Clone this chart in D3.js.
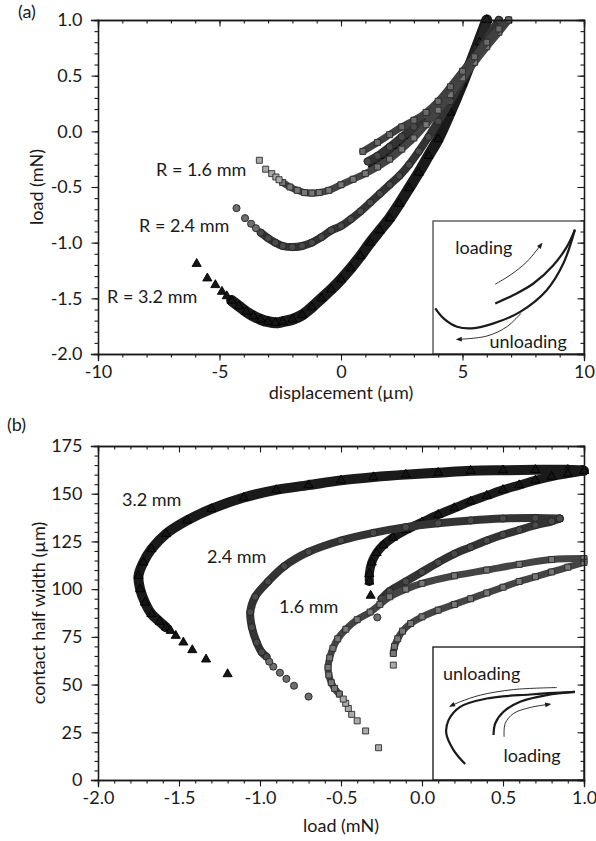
<!DOCTYPE html>
<html><head><meta charset="utf-8">
<script src="https://cdn.jsdelivr.net/npm/d3@7"></script>
<style>body{margin:0;background:#fff} text{font-family:Lato,"Open Sans",sans-serif;fill:#1a1a1a}</style>
</head><body><svg id="c" width="596" height="841"></svg>
<script>
// ---------- Panel (a): load (mN) vs displacement (um) ----------
const aXTicks = [-10,-5,0,5,10];
const aYTicks = [1.0,0.5,0.0,-0.5,-1.0,-1.5,-2.0];
const a16Tail = [[-3.36,-0.26],[-3.10,-0.34],[-2.85,-0.38],[-2.68,-0.41],[-2.55,-0.435]];
const a16Unload = [[-2.4,-0.46],[-2.1,-0.50],[-1.8,-0.53],[-1.5,-0.55],[-1.2,-0.555],[-0.9,-0.55],[-0.5,-0.53],[0,-0.48],[0.5,-0.43],[1.0,-0.38],[1.5,-0.32],[2.0,-0.25],[2.5,-0.16],[3.0,-0.06],[3.5,0.06],[4.0,0.19],[4.5,0.33],[5.0,0.48],[5.5,0.62],[6.0,0.76],[6.5,0.89],[6.9,1.0]];
const a16Load = [[0.9,-0.18],[1.5,-0.1],[2.0,-0.03],[2.5,0.04],[3.0,0.1],[3.5,0.17],[4.0,0.27],[4.5,0.4],[5.0,0.54],[5.5,0.67],[6.0,0.8],[6.5,0.92],[6.9,1.0]];
const a24Tail = [[-4.3,-0.69],[-3.95,-0.78],[-3.70,-0.83],[-3.5,-0.87]];
const a24Unload = [[-3.3,-0.91],[-3.0,-0.96],[-2.7,-1.0],[-2.4,-1.03],[-2.0,-1.04],[-1.6,-1.03],[-1.2,-1.0],[-0.8,-0.95],[-0.4,-0.89],[0,-0.85],[0.4,-0.79],[0.8,-0.72],[1.2,-0.64],[1.6,-0.56],[2.0,-0.48],[2.4,-0.40],[2.8,-0.3],[3.2,-0.18],[3.6,-0.05],[4.0,0.09],[4.5,0.27],[5.0,0.46],[5.5,0.64],[6.0,0.83],[6.5,1.0]];
const a24Load = [[1.1,-0.27],[1.5,-0.22],[2.0,-0.14],[2.5,-0.05],[3.0,0.04],[3.5,0.14],[4.0,0.26],[4.5,0.38],[5.0,0.52],[5.5,0.66],[6.0,0.81],[6.5,1.0]];
const a32Tail = [[-5.94,-1.19],[-5.5,-1.32],[-5.17,-1.38],[-4.9,-1.44],[-4.7,-1.48]];
const a32Unload = [[-4.5,-1.52],[-4.2,-1.57],[-3.9,-1.62],[-3.6,-1.66],[-3.3,-1.69],[-3.0,-1.71],[-2.7,-1.72],[-2.4,-1.71],[-2.0,-1.69],[-1.6,-1.65],[-1.2,-1.58],[-0.8,-1.5],[-0.4,-1.42],[0,-1.33],[0.4,-1.23],[0.8,-1.12],[1.2,-1.0],[1.6,-0.89],[2.0,-0.78],[2.4,-0.65],[2.8,-0.51],[3.2,-0.37],[3.6,-0.22],[4.0,-0.07],[4.5,0.17],[5.0,0.43],[5.5,0.71],[6.0,1.0]];
const a32Load = [[1.3,-0.3],[1.8,-0.22],[2.3,-0.13],[2.8,-0.04],[3.3,0.06],[3.8,0.17],[4.3,0.3],[4.8,0.45],[5.3,0.62],[5.7,0.8],[6.0,1.0]];

// ---------- Panel (b): contact half width (um) vs load (mN) ----------
const bXTicks = [-2.0,-1.5,-1.0,-0.5,0.0,0.5,1.0];
const bYTicks = [0,25,50,75,100,125,150,175];
const b32Tail = [[-1.2,55.5],[-1.333,63.2],[-1.418,68.1],[-1.473,72.1],[-1.52,75.6],[-1.551,78.2]];
const b32Unload = [[-1.58,80],[-1.62,83],[-1.67,87],[-1.71,93],[-1.74,100],[-1.75,107],[-1.72,114],[-1.67,121],[-1.58,129],[-1.45,136],[-1.3,142],[-1.1,148],[-0.9,152],[-0.7,154.5],[-0.5,157],[-0.3,158.7],[-0.1,160],[0.1,161],[0.3,162],[0.5,162.3],[0.7,162.5],[0.9,162.5],[1.0,162]];
const b32Tail2 = [[-0.317,96.6]];
const b32Load = [[-0.325,104],[-0.325,108],[-0.31,114],[-0.28,119],[-0.24,123],[-0.18,127],[-0.1,131],[0,135],[0.1,139],[0.2,142.5],[0.3,146],[0.4,149],[0.5,152],[0.6,154.5],[0.7,157],[0.8,159],[0.9,160.5],[1.0,162]];
const b24Tail = [[-0.70,43.7],[-0.79,49.4],[-0.837,53],[-0.877,56.2],[-0.918,59.4],[-0.943,62]];
const b24Unload = [[-0.96,64.6],[-0.99,67],[-1.02,72],[-1.05,80],[-1.06,88],[-1.03,96],[-0.95,104],[-0.85,112],[-0.7,119.5],[-0.5,125.5],[-0.3,129.5],[-0.1,132.5],[0.1,134.5],[0.3,136],[0.5,137],[0.7,137.3],[0.85,137]];
const b24Tail2 = [[-0.276,85.2]];
const b24Load = [[-0.25,95],[-0.2,99],[-0.1,104],[0,109],[0.1,114],[0.2,118.5],[0.3,122],[0.4,125.5],[0.5,128.5],[0.6,131],[0.7,133.5],[0.8,135.5],[0.85,137]];
const b16Tail = [[-0.268,16.9],[-0.348,25.7],[-0.4,31],[-0.434,34.4],[-0.455,37.5],[-0.471,40.2],[-0.486,42.4]];
const b16Unload = [[-0.51,45],[-0.54,48],[-0.56,51],[-0.575,55],[-0.58,59],[-0.57,64],[-0.55,69],[-0.52,74],[-0.47,79],[-0.4,84],[-0.32,88],[-0.26,92],[-0.2,96],[-0.1,100],[0,103],[0.2,107],[0.4,110],[0.6,113],[0.8,115.5],[1.0,116]];
const b16Tail2 = [[-0.177,60.2]];
const b16Load = [[-0.177,66.3],[-0.17,70],[-0.15,74],[-0.12,78],[-0.07,82],[0,85.5],[0.1,89],[0.2,92],[0.3,95],[0.4,98],[0.5,101],[0.6,104],[0.7,106.5],[0.8,109],[0.9,111.5],[1.0,114]];

// ---------- Inset schematics (normalised box coordinates, y downward) ----------
const insA_unload = [[0.015,0.657],[0.070,0.732],[0.159,0.795],[0.258,0.807],[0.401,0.770],[0.577,0.683],[0.753,0.520],[0.863,0.320],[0.940,0.065]];
const insA_load = [[0.412,0.620],[0.533,0.557],[0.665,0.470],[0.797,0.332],[0.886,0.195],[0.940,0.065]];
const insA_loadArrow = [[0.412,0.475],[0.511,0.407],[0.621,0.307],[0.720,0.170]];
const insA_unloadArrow = [[0.582,0.695],[0.489,0.795],[0.357,0.865],[0.159,0.890]];
const insB_unload = [[0.213,0.880],[0.136,0.775],[0.088,0.650],[0.103,0.550],[0.180,0.450],[0.357,0.387],[0.643,0.357],[0.940,0.338]];
const insB_load = [[0.401,0.662],[0.412,0.575],[0.467,0.487],[0.577,0.412],[0.753,0.362],[0.940,0.338]];
const insB_unloadArrow = [[0.820,0.305],[0.533,0.320],[0.313,0.362],[0.180,0.412],[0.114,0.445]];
const insB_loadArrow = [[0.471,0.675],[0.478,0.575],[0.533,0.500],[0.643,0.455],[0.775,0.430]];

const FS = 18;
const svg = d3.select("#c");
const fmt1 = d => d.toFixed(1).replace("\u2212","-");
const fmt0 = d => String(d);

svg.append("defs").append("marker").attr("id","ah").attr("viewBox","0 0 10 10")
  .attr("refX",8).attr("refY",5).attr("markerWidth",7).attr("markerHeight",6)
  .attr("markerUnits","userSpaceOnUse").attr("orient","auto")
  .append("path").attr("d","M0,1 L10,5 L0,9 Z").attr("fill","#1a1a1a");

function frame(x, y, xMaj, xMin, yMaj, yMin, fx, fy) {
  const [x0,x1] = x.range(), [y0,y1] = y.range();
  const g = svg.append("g");
  const style = s => { s.select(".domain").attr("stroke","#1a1a1a").attr("stroke-width",1.3);
    s.selectAll(".tick line").attr("stroke","#1a1a1a").attr("stroke-width",1.1);
    s.selectAll("text").attr("font-size",FS).attr("fill","#1a1a1a").attr("font-family","Lato"); };
  g.append("g").attr("transform",`translate(0,${y0})`).call(d3.axisBottom(x).tickValues(xMin).tickSize(3.5).tickFormat("")).call(style);
  g.append("g").attr("transform",`translate(0,${y0})`).call(d3.axisBottom(x).tickValues(xMaj).tickSize(6.5).tickPadding(5).tickFormat(fx)).call(style);
  g.append("g").attr("transform",`translate(0,${y1})`).call(d3.axisTop(x).tickValues(xMin).tickSize(-3.5).tickFormat("")).call(style);
  g.append("g").attr("transform",`translate(0,${y1})`).call(d3.axisTop(x).tickValues(xMaj).tickSize(-6.5).tickFormat("")).call(style);
  g.append("g").attr("transform",`translate(${x0},0)`).call(d3.axisLeft(y).tickValues(yMin).tickSize(3.5).tickFormat("")).call(style);
  g.append("g").attr("transform",`translate(${x0},0)`).call(d3.axisLeft(y).tickValues(yMaj).tickSize(6.5).tickPadding(9).tickFormat(fy)).call(style);
  g.append("g").attr("transform",`translate(${x1},0)`).call(d3.axisRight(y).tickValues(yMin).tickSize(-3.5).tickFormat("")).call(style);
  g.append("g").attr("transform",`translate(${x1},0)`).call(d3.axisRight(y).tickValues(yMaj).tickSize(-6.5).tickFormat("")).call(style);
  g.selectAll(".domain").attr("stroke-linecap","square");
  return g;
}
const rng = (a,b,s) => d3.range(Math.round(a/s), Math.round(b/s)+1).map(i => +(i*s).toFixed(6));

function series(g, x, y, dense, tail, sym, size, fill, denseFill, stroke, band, bw) {
  if (dense.length) {
    g.append("path").datum(dense).attr("fill","none").attr("stroke",band).attr("stroke-width",bw)
      .attr("stroke-linejoin","round").attr("stroke-linecap","round")
      .attr("d", d3.line().x(d=>x(d[0])).y(d=>y(d[1])).curve(d3.curveCatmullRom));
  }
  g.selectAll(null).data(dense).join("path")
    .attr("transform", d=>`translate(${x(d[0])},${y(d[1])})`)
    .attr("d", d3.symbol(sym, size)).attr("fill", denseFill).attr("stroke", stroke).attr("stroke-width",0.9);
  g.selectAll(null).data(tail).join("path")
    .attr("transform", d=>`translate(${x(d[0])},${y(d[1])})`)
    .attr("d", d3.symbol(sym, size)).attr("fill", fill).attr("stroke", stroke).attr("stroke-width",0.9);
}

function inset(x0,y0,x1,y1,border,curves,thin,labels){
  const g = svg.append("g");
  g.append("rect").attr("x",x0).attr("y",y0).attr("width",x1-x0).attr("height",y1-y0)
    .attr("fill","#fff").attr("stroke",border).attr("stroke-width",1.4);
  const sx = d3.scaleLinear().domain([0,1]).range([x0,x1]);
  const sy = d3.scaleLinear().domain([0,1]).range([y0,y1]);
  const ln = d3.line().x(d=>sx(d[0])).y(d=>sy(d[1])).curve(d3.curveCatmullRom);
  curves.forEach(c => g.append("path").attr("d",ln(c)).attr("fill","none").attr("stroke","#1a1a1a").attr("stroke-width",2.2));
  thin.forEach(c => g.append("path").attr("d",ln(c)).attr("fill","none").attr("stroke","#1a1a1a").attr("stroke-width",0.9).attr("marker-end","url(#ah)"));
  labels.forEach(l => g.append("text").attr("x",sx(l[1])).attr("y",sy(l[2])).attr("font-size",FS).text(l[0]));
}

// ---- Panel (a)
const ax = d3.scaleLinear().domain([-10,10]).range([98,584]);
const ay = d3.scaleLinear().domain([-2,1]).range([354,20]);
const ga = svg.append("g");
series(ga, ax, ay, a32Unload, a32Tail, d3.symbolTriangle, 36, "#151515", "#151515", "#000", "#1a1a1a", 11);
series(ga, ax, ay, a32Load, [], d3.symbolTriangle, 34, "#222", "#222", "#000", "#262626", 8);
series(ga, ax, ay, a24Unload, a24Tail, d3.symbolCircle, 40, "#6e6e6e", "#4a4a4a", "#222", "#333", 8);
series(ga, ax, ay, a24Load, [], d3.symbolCircle, 40, "#6e6e6e", "#4a4a4a", "#222", "#333", 8);
series(ga, ax, ay, a16Unload, a16Tail, d3.symbolSquare, 36, "#aaaaaa", "#777", "#2a2a2a", "#444", 7);
series(ga, ax, ay, a16Load, [], d3.symbolSquare, 36, "#aaaaaa", "#6a6a6a", "#2a2a2a", "#404040", 7);
inset(433,221,584,354,"#555",[insA_unload,insA_load],[insA_loadArrow,insA_unloadArrow],[["loading",0.147,0.25],["unloading",0.374,0.957]]);
frame(ax, ay, aXTicks, rng(-10,10,1), aYTicks, rng(-2,1,0.1), fmt0, fmt1);
svg.append("text").attr("x",18).attr("y",18).attr("font-size",FS).text("(a)");
svg.append("text").attr("x",341).attr("y",399).attr("text-anchor","middle").attr("font-size",FS).text("displacement (µm)");
svg.append("text").attr("transform","translate(43,187) rotate(-90)").attr("text-anchor","middle").attr("font-size",FS).text("load (mN)");
svg.append("text").attr("x",156).attr("y",176).attr("font-size",FS).text("R = 1.6 mm");
svg.append("text").attr("x",139).attr("y",232).attr("font-size",FS).text("R = 2.4 mm");
svg.append("text").attr("x",107).attr("y",303).attr("font-size",FS).text("R = 3.2 mm");

// ---- Panel (b)
const bx = d3.scaleLinear().domain([-2,1]).range([98,584]);
const by = d3.scaleLinear().domain([0,175]).range([780,446]);
const gb = svg.append("g");
series(gb, bx, by, b32Unload, b32Tail, d3.symbolTriangle, 36, "#151515", "#151515", "#000", "#1a1a1a", 10);
series(gb, bx, by, b32Load, b32Tail2, d3.symbolTriangle, 36, "#151515", "#151515", "#000", "#1a1a1a", 9);
series(gb, bx, by, b24Unload, b24Tail, d3.symbolCircle, 40, "#6e6e6e", "#4a4a4a", "#222", "#333", 8);
series(gb, bx, by, b24Load, b24Tail2, d3.symbolCircle, 40, "#6e6e6e", "#4a4a4a", "#222", "#333", 8);
series(gb, bx, by, b16Unload, b16Tail, d3.symbolSquare, 36, "#aaaaaa", "#777", "#2a2a2a", "#444", 7);
series(gb, bx, by, b16Load, b16Tail2, d3.symbolSquare, 36, "#aaaaaa", "#777", "#2a2a2a", "#444", 7);
inset(433,647,584,780,"#222",[insB_unload,insB_load],[insB_unloadArrow,insB_loadArrow],[["unloading",0.066,0.25],["loading",0.467,0.863]]);
frame(bx, by, bXTicks, rng(-2,1,0.1), bYTicks, rng(0,175,5), fmt1, fmt0);
svg.append("text").attr("x",7).attr("y",431).attr("font-size",FS).text("(b)");
svg.append("text").attr("x",341).attr("y",832).attr("text-anchor","middle").attr("font-size",FS).text("load (mN)");
svg.append("text").attr("transform","translate(45,613) rotate(-90)").attr("text-anchor","middle").attr("font-size",FS).text("contact half width (µm)");
svg.append("text").attr("x",122).attr("y",506).attr("font-size",FS).text("3.2 mm");
svg.append("text").attr("x",207).attr("y",563).attr("font-size",FS).text("2.4 mm");
svg.append("text").attr("x",279).attr("y",613).attr("font-size",FS).text("1.6 mm");
</script></body></html>
